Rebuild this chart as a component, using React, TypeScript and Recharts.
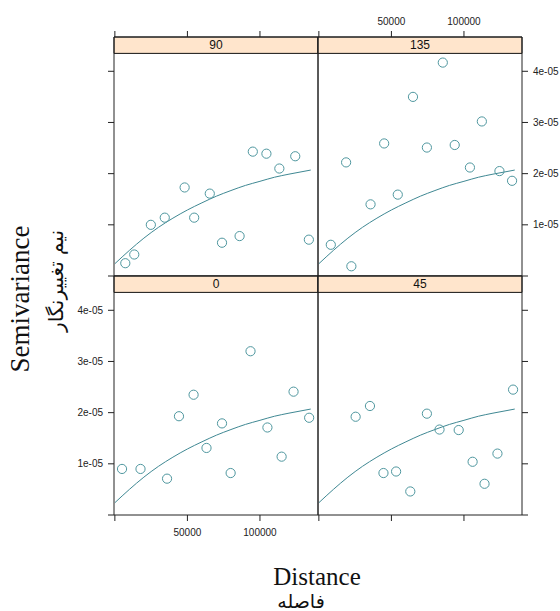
import React from 'react';
import { ComposedChart, Scatter, Line, XAxis, YAxis, ReferenceArea } from 'recharts';

// ---- tick values ----
const X_TICKS = [0, 50000, 100000];
const Y_TICKS = [0, 1e-5, 2e-5, 3e-5, 4e-5];

// ---- panel 90 ----
const dist90 = [7190, 13360, 24790, 34380, 48080, 54660, 65410, 73840, 85960, 95070, 104450, 113360, 124320, 133700];
const gamma90 = [0.25e-5, 0.42e-5, 1.0e-5, 1.14e-5, 1.73e-5, 1.14e-5, 1.61e-5, 0.65e-5, 0.78e-5, 2.43e-5, 2.39e-5, 2.1e-5, 2.34e-5, 0.71e-5];

// ---- panel 135 ----
const dist135 = [8220, 18770, 22400, 35620, 45000, 54380, 64860, 74450, 85410, 93630, 104110, 112330, 124450, 133150];
const gamma135 = [0.61e-5, 2.22e-5, 0.19e-5, 1.4e-5, 2.59e-5, 1.59e-5, 3.5e-5, 2.51e-5, 4.17e-5, 2.56e-5, 2.12e-5, 3.02e-5, 2.05e-5, 1.86e-5];

// ---- panel 0 ----
const dist0 = [4930, 17670, 35960, 44180, 54250, 63150, 73840, 79790, 93490, 105140, 114930, 123150, 133900];
const gamma0 = [0.9e-5, 0.9e-5, 0.71e-5, 1.93e-5, 2.35e-5, 1.31e-5, 1.79e-5, 0.82e-5, 3.2e-5, 1.71e-5, 1.14e-5, 2.41e-5, 1.9e-5];

// ---- panel 45 ----
const dist45 = [25340, 35210, 44520, 53220, 63010, 74450, 83150, 96370, 105960, 114180, 123080, 133840];
const gamma45 = [1.92e-5, 2.13e-5, 0.82e-5, 0.85e-5, 0.46e-5, 1.98e-5, 1.67e-5, 1.66e-5, 1.04e-5, 0.61e-5, 1.2e-5, 2.45e-5];

// ---- fitted model curve (same in every panel) ----
const curveDist = [0, 10000, 20000, 30000, 40000, 50000, 60000, 70000, 80000, 90000, 100000, 110000, 120000, 135000];
const curveGamma = [0.24e-5, 0.5e-5, 0.74e-5, 0.95e-5, 1.13e-5, 1.29e-5, 1.43e-5, 1.56e-5, 1.67e-5, 1.77e-5, 1.85e-5, 1.93e-5, 1.99e-5, 2.07e-5];

// ---- layout constants ----
const X_DOMAIN: [number, number] = [-600, 140000];
const Y_TOP = 4.67e-5;
const STRIP_BOTTOM = 4.35e-5;
const W_PLOT = 204;
const H_PLOT = 239;
const AX_W = 40;
const AX_H = 30;
const AXIS_COL = '#222';
const POINT_COL = '#4f979f';
const LINE_COL = '#3f8893';
const STRIP_COL = '#ffe5cc';
const TICK_FONT = { fill: '#222', fontSize: 10, fontFamily: 'Liberation Sans, Arial, sans-serif' };

const fmtX = (v: number) => (v === 0 ? '' : String(v));
const fmtY = (v: number) => (v === 0 ? '' : `${Math.round(v * 1e5)}e-05`);
const blank = () => '';

type Side = 'none' | 'ticks' | 'labels';

interface PanelProps {
  label: string;
  dist: number[];
  gamma: number[];
  plotLeft: number;
  plotTop: number;
  topSide: Side;
  bottomSide: Side;
  leftSide: Side;
  rightSide: Side;
}

const Circle = (props: any) => {
  const { cx, cy } = props;
  if (cx == null || cy == null) return <g />;
  return <circle cx={cx} cy={cy} r={4.6} fill="none" stroke={POINT_COL} strokeWidth={1} />;
};

function Panel({ label, dist, gamma, plotLeft, plotTop, topSide, bottomSide, leftSide, rightSide }: PanelProps) {
  const pts = dist.map((d, i) => ({ d, v: gamma[i] }));
  const curve = curveDist.map((d, i) => ({ d, v: curveGamma[i] }));

  const xAxisProps = (side: Side, fmt: (v: number) => string) => ({
    type: 'number' as const,
    dataKey: 'd',
    domain: X_DOMAIN,
    allowDataOverflow: true,
    ticks: X_TICKS,
    height: AX_H,
    stroke: AXIS_COL,
    tickSize: 6,
    tickLine: side !== 'none',
    tick: side === 'none' ? false : TICK_FONT,
    tickFormatter: side === 'labels' ? fmt : blank,
    interval: 0 as const,
  });
  const yAxisProps = (side: Side) => ({
    type: 'number' as const,
    dataKey: 'v',
    domain: [0, Y_TOP] as [number, number],
    allowDataOverflow: true,
    ticks: Y_TICKS,
    width: AX_W,
    stroke: AXIS_COL,
    tickSize: 6,
    tickLine: side !== 'none',
    tick: side === 'none' ? false : TICK_FONT,
    tickFormatter: side === 'labels' ? fmtY : blank,
    interval: 0 as const,
  });

  return (
    <div style={{ position: 'absolute', left: plotLeft - AX_W, top: plotTop - AX_H }}>
      <ComposedChart
        width={W_PLOT + 2 * AX_W}
        height={H_PLOT + 2 * AX_H}
        margin={{ top: 0, right: 0, bottom: 0, left: 0 }}
      >
        <XAxis xAxisId="b" orientation="bottom" tickMargin={8} {...xAxisProps(bottomSide, fmtX)} />
        <XAxis xAxisId="t" orientation="top" tickMargin={6} {...xAxisProps(topSide, fmtX)} />
        <YAxis yAxisId="l" orientation="left" tickMargin={5} {...yAxisProps(leftSide)} />
        <YAxis yAxisId="r" orientation="right" tickMargin={5} {...yAxisProps(rightSide)} />
        <ReferenceArea
          xAxisId="b"
          yAxisId="l"
          x1={X_DOMAIN[0]}
          x2={X_DOMAIN[1]}
          y1={STRIP_BOTTOM}
          y2={Y_TOP}
          fill={STRIP_COL}
          fillOpacity={1}
          stroke="#111"
          strokeWidth={1}
          label={{ value: label, position: 'center', fill: '#111', fontSize: 12, fontFamily: 'Liberation Sans, Arial, sans-serif' }}
        />
        <Line
          xAxisId="b"
          yAxisId="l"
          data={curve}
          dataKey="v"
          type="monotone"
          stroke={LINE_COL}
          strokeWidth={1}
          dot={false}
          isAnimationActive={false}
        />
        <Scatter
          xAxisId="b"
          yAxisId="l"
          data={pts}
          dataKey="v"
          shape={Circle}
          isAnimationActive={false}
        />
      </ComposedChart>
    </div>
  );
}

export default function App() {
  const LEFT_X = 114;
  const RIGHT_X = 318;
  const TOP_Y = 37;
  const BOTTOM_Y = 276;
  return (
    <div style={{ position: 'absolute', left: 0, top: 0, width: 560, height: 611, background: '#fff', overflow: 'hidden' }}>
      <Panel label="90" dist={dist90} gamma={gamma90} plotLeft={LEFT_X} plotTop={TOP_Y}
        topSide="ticks" bottomSide="none" leftSide="ticks" rightSide="none" />
      <Panel label="135" dist={dist135} gamma={gamma135} plotLeft={RIGHT_X} plotTop={TOP_Y}
        topSide="labels" bottomSide="none" leftSide="none" rightSide="labels" />
      <Panel label="0" dist={dist0} gamma={gamma0} plotLeft={LEFT_X} plotTop={BOTTOM_Y}
        topSide="none" bottomSide="labels" leftSide="labels" rightSide="none" />
      <Panel label="45" dist={dist45} gamma={gamma45} plotLeft={RIGHT_X} plotTop={BOTTOM_Y}
        topSide="none" bottomSide="ticks" leftSide="none" rightSide="ticks" />
      <svg width={560} height={611} style={{ position: 'absolute', left: 0, top: 0, pointerEvents: 'none' }}>
        <text x={20} y={299} transform="rotate(-90, 20, 299)" textAnchor="middle" dominantBaseline="central"
          fontFamily="Liberation Serif, Times New Roman, serif" fontSize={27} fill="#111">Semivariance</text>
        <text x={56} y={281} transform="rotate(-90, 56, 281)" textAnchor="middle" dominantBaseline="central"
          fontFamily="DejaVu Sans, serif" fontSize={20} fill="#111">نیم تغییرنگار</text>
        <text x={317} y={576} textAnchor="middle" dominantBaseline="central"
          fontFamily="Liberation Serif, Times New Roman, serif" fontSize={25} fill="#111">Distance</text>
        <text x={301} y={601} textAnchor="middle" dominantBaseline="central"
          fontFamily="DejaVu Sans, serif" fontSize={19} fill="#111">فاصله</text>
      </svg>
    </div>
  );
}
